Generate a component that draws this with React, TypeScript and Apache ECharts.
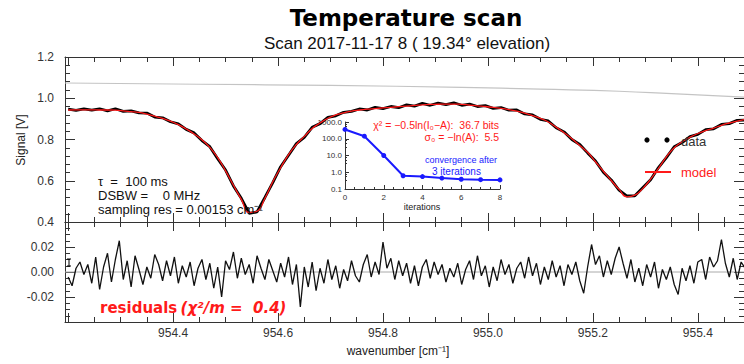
import React, { useEffect, useRef } from "react";
import * as echarts from "echarts";

const FONT = '"Liberation Sans", Arial, Helvetica, sans-serif';
const BOLDFONT = '"DejaVu Sans", Verdana, sans-serif';
const AX = "#333";

const XMIN = 954.194;
const XMAX = 955.488;

// spectrum sampled on a regular wavenumber grid
const spectrumStart = 954.2;
const spectrumStep = 0.015;
const modelSignal = [
  0.943, 0.944, 0.944, 0.944, 0.943, 0.943, 0.942, 0.939, 0.935, 0.931,
  0.923, 0.913, 0.902, 0.889, 0.872, 0.851, 0.827, 0.799, 0.762, 0.712,
  0.648, 0.578, 0.51, 0.446, 0.452, 0.515, 0.595, 0.663, 0.727, 0.776,
  0.815, 0.853, 0.88, 0.903, 0.919, 0.929, 0.938, 0.943, 0.947, 0.95,
  0.953, 0.956, 0.959, 0.962, 0.965, 0.968, 0.97, 0.971, 0.972, 0.972,
  0.97, 0.967, 0.963, 0.96, 0.956, 0.951, 0.945, 0.938, 0.928, 0.916,
  0.902, 0.885, 0.86, 0.833, 0.804, 0.771, 0.738, 0.692, 0.646, 0.601,
  0.558, 0.522, 0.53, 0.562, 0.608, 0.66, 0.716, 0.76, 0.789, 0.811,
  0.829, 0.843, 0.855, 0.869, 0.88, 0.889, 0.897,
];
const measuredSignal = [
  0.947, 0.941, 0.949, 0.942, 0.949, 0.939, 0.949, 0.936, 0.939, 0.929,
  0.928, 0.909, 0.905, 0.886, 0.876, 0.849, 0.832, 0.795, 0.765, 0.707,
  0.652, 0.575, 0.515, 0.442, 0.449, 0.519, 0.591, 0.668, 0.724, 0.78,
  0.81, 0.859, 0.877, 0.907, 0.915, 0.932, 0.936, 0.948, 0.943, 0.956,
  0.95, 0.96, 0.954, 0.968, 0.962, 0.975, 0.966, 0.976, 0.969, 0.978,
  0.966, 0.972, 0.96, 0.964, 0.951, 0.955, 0.942, 0.943, 0.924, 0.919,
  0.898, 0.89, 0.857, 0.837, 0.8, 0.776, 0.735, 0.696, 0.641, 0.604,
  0.554, 0.526, 0.527, 0.566, 0.605, 0.664, 0.712, 0.765, 0.785, 0.814,
  0.825, 0.848, 0.852, 0.873, 0.877, 0.893, 0.894,
];

const residualStart = 954.2;
const residualStep = 0.0075;
const residuals = [
  -0.004, -0.011, 0.003, 0.008, -0.002, 0.006, -0.009, 0.012, -0.014, 0.004,
  0.015, -0.008, 0.01, 0.025, -0.006, 0.009, -0.012, 0.013, 0.002, -0.01,
  0.004, -0.005, 0.014, 0.006, -0.007, 0.009, -0.003, 0.012, -0.009, 0.005,
  -0.004, 0.008, -0.011, 0.003, 0.01, -0.006, 0.007, -0.013, 0.004, -0.02,
  0.009, 0.002, 0.016, -0.005, 0.011, -0.002, 0.006, -0.009, 0.013, 0.003,
  -0.006, 0.01, 0.001, -0.008, 0.007, -0.004, 0.012, -0.01, 0.006, -0.028,
  0.004, -0.012, 0.008, -0.015, 0.003, -0.009, 0.01, -0.006, 0.005, -0.013,
  0.002, -0.007, 0.009, -0.003, -0.008, 0.006, 0.014, -0.004, 0.008, -0.002,
  0.024, 0.003, 0.011, -0.006, 0.009, -0.003, 0.007, -0.009, 0.005, -0.011,
  0.004, 0.01, -0.005, 0.008, -0.002, 0.006, -0.008, 0.003, -0.004, 0.007,
  -0.01, 0.002, 0.009, -0.006, 0.013, -0.003, 0.005, -0.012, 0.004, -0.007,
  0.01, -0.002, 0.006, -0.009, 0.003, 0.008, -0.005, 0.012, -0.003, 0.007,
  -0.01, 0.004, -0.006, 0.009, -0.004, 0.005, -0.011, 0.006, -0.002, 0.008,
  -0.007, -0.017, 0.004, 0.022, 0.006, 0.013, -0.004, 0.009, -0.002, 0.011,
  0.02, 0.007, -0.005, 0.01, -0.008, 0.003, -0.011, 0.006, -0.004, 0.008,
  -0.013, 0.002, -0.006, 0.004, -0.01, -0.018, 0.003, -0.007, 0.005, -0.009,
  0.008, 0.01, -0.006, 0.012, 0.004, 0.009, 0.026, 0.007, -0.004, 0.011,
  -0.006, 0.008, 0.003, -0.009,
];

const baselineWavenumber = [954.194, 954.45, 954.7, 954.95, 955.1, 955.25, 955.35, 955.488];
const baselineSignal = [1.074, 1.068, 1.062, 1.053, 1.044, 1.034, 1.022, 1.005];

const iterations = [0, 1, 2, 3, 4, 5, 6, 7, 8];
const convergence = [360, 142, 10, 0.62, 0.55, 0.45, 0.38, 0.36, 0.35];

const annotationLines = ["τ  =  100 ms", "DSBW =    0 MHz", "sampling res = 0.00153 cm⁻¹"];

const lineStyle = { color: AX, width: 1 };

function xLabelFormatter(v: number) {
  const k = v * 5;
  if (v < 954.3 || Math.abs(k - Math.round(k)) > 1e-6) return "";
  return v.toFixed(1);
}

function majorX(gridIndex: number, position: string, labels: boolean) {
  return {
    type: "value",
    gridIndex,
    position,
    min: XMIN,
    max: XMAX,
    splitNumber: 6,
    minInterval: 0.2,
    maxInterval: 0.2,
    axisLine: { show: true, onZero: false, lineStyle },
    axisTick: { show: true, inside: true, length: 9, lineStyle },
    splitLine: { show: false },
    axisLabel: labels
      ? {
          show: true,
          margin: 5,
          color: AX,
          fontSize: 12,
          fontFamily: FONT,
          showMinLabel: false,
          showMaxLabel: false,
          formatter: xLabelFormatter,
        }
      : { show: false },
  };
}

function minorX(gridIndex: number, position: string) {
  return {
    type: "value",
    gridIndex,
    position,
    min: XMIN,
    max: XMAX,
    splitNumber: 26,
    minInterval: 0.05,
    maxInterval: 0.05,
    axisLine: { show: false, onZero: false },
    axisTick: { show: true, inside: true, length: 5, lineStyle },
    splitLine: { show: false },
    axisLabel: { show: false },
  };
}

function mainY(
  gridIndex: number,
  position: string,
  min: number,
  max: number,
  interval: number,
  minorSplit: number,
  digits: number,
  labels: boolean,
  hideEnds: boolean
) {
  return {
    type: "value",
    gridIndex,
    position,
    min,
    max,
    interval,
    axisLine: { show: true, onZero: false, lineStyle },
    axisTick: { show: true, inside: true, length: 10, lineStyle },
    minorTick: { show: true, splitNumber: minorSplit, length: 5, lineStyle },
    splitLine: { show: false },
    axisLabel: labels
      ? {
          show: true,
          margin: 11,
          color: AX,
          fontSize: 12,
          fontFamily: FONT,
          showMinLabel: !hideEnds,
          showMaxLabel: !hideEnds,
          formatter: (v: number) => v.toFixed(digits),
        }
      : { show: false },
  };
}

function text(x: number, y: number, t: string, font: string, fill: string, align = "left", extra: any = {}) {
  return {
    type: "text",
    x,
    y,
    silent: true,
    z: 100,
    ...extra,
    style: {
      text: t,
      font,
      fill,
      align,
      verticalAlign: "middle",
      textAlign: align,
      textVerticalAlign: "middle",
    },
  };
}

function buildOption() {
  const spectrumX = modelSignal.map((_, i) => spectrumStart + i * spectrumStep);
  const modelData = modelSignal.map((v, i) => [spectrumX[i], v]);
  const measuredData = measuredSignal.map((v, i) => [spectrumX[i], v]);
  const residualData = residuals.map((v, i) => [residualStart + i * residualStep, v]);
  const baselineData = baselineSignal.map((v, i) => [baselineWavenumber[i], v]);
  const convData = convergence.map((v, i) => [iterations[i], v]);

  return {
    animation: false,
    backgroundColor: "#fff",
    grid: [
      { left: 65, top: 57, width: 679, height: 165 },
      { left: 65, top: 222, width: 679, height: 100 },
      { left: 345, top: 122, width: 155, height: 67 },
    ],
    xAxis: [
      majorX(0, "bottom", false), // 0
      majorX(0, "top", false), // 1
      majorX(1, "bottom", true), // 2
      majorX(1, "top", false), // 3
      minorX(0, "bottom"), // 4
      minorX(0, "top"), // 5
      minorX(1, "bottom"), // 6
      minorX(1, "top"), // 7
      {
        type: "value",
        gridIndex: 2,
        position: "bottom",
        min: 0,
        max: 8,
        interval: 2,
        axisLine: { show: true, onZero: false, lineStyle },
        axisTick: { show: true, inside: true, length: 4, lineStyle },
        minorTick: { show: true, splitNumber: 4, length: 2, lineStyle },
        splitLine: { show: false },
        axisLabel: { show: true, margin: 4, color: AX, fontSize: 8, fontFamily: FONT },
      }, // 8
    ],
    yAxis: [
      mainY(0, "left", 0.4, 1.2, 0.2, 5, 1, true, false),
      mainY(0, "right", 0.4, 1.2, 0.2, 5, 1, false, false),
      mainY(1, "left", -0.04, 0.04, 0.02, 4, 2, true, true),
      mainY(1, "right", -0.04, 0.04, 0.02, 4, 2, false, true),
      {
        type: "log",
        logBase: 10,
        gridIndex: 2,
        position: "left",
        min: 0.1,
        max: 1000,
        axisLine: { show: true, onZero: false, lineStyle },
        axisTick: { show: true, inside: true, length: 4, lineStyle },
        minorTick: { show: true, splitNumber: 4, length: 2, lineStyle },
        splitLine: { show: false },
        axisLabel: {
          show: true,
          margin: 3,
          color: AX,
          fontSize: 8,
          fontFamily: FONT,
          formatter: (v: number) => v.toFixed(1),
        },
      },
    ],
    series: [
      {
        type: "line",
        xAxisIndex: 0,
        yAxisIndex: 0,
        data: baselineData,
        smooth: true,
        symbol: "none",
        lineStyle: { color: "#c4c4c4", width: 1.2 },
        z: 2,
      },
      {
        type: "line",
        xAxisIndex: 0,
        yAxisIndex: 0,
        data: measuredData,
        symbol: "none",
        lineStyle: { color: "#000", width: 2.8 },
        z: 3,
      },
      {
        type: "line",
        xAxisIndex: 0,
        yAxisIndex: 0,
        data: modelData,
        smooth: true,
        symbol: "none",
        lineStyle: { color: "#ff1a1a", width: 1.3 },
        z: 4,
      },
      {
        type: "line",
        xAxisIndex: 2,
        yAxisIndex: 2,
        data: [
          [XMIN, 0],
          [XMAX, 0],
        ],
        symbol: "none",
        lineStyle: { color: "#aaa", width: 1 },
        z: 2,
      },
      {
        type: "line",
        xAxisIndex: 2,
        yAxisIndex: 2,
        data: residualData,
        symbol: "none",
        lineStyle: { color: "#111", width: 1.3 },
        z: 3,
      },
      {
        type: "line",
        xAxisIndex: 8,
        yAxisIndex: 4,
        data: convData,
        symbol: "circle",
        symbolSize: 5,
        itemStyle: { color: "#1a1aff" },
        lineStyle: { color: "#1a1aff", width: 2 },
        z: 10,
      },
    ],
    graphic: [
      text(406, 18, "Temperature scan", `bold 23px ${BOLDFONT}`, "#000", "center"),
      text(407, 43, "Scan 2017-11-17 8 ( 19.34° elevation)", `17px ${FONT}`, "#111", "center"),
      text(21, 140, "Signal [V]", `12px ${FONT}`, "#222", "center", { rotation: Math.PI / 2 }),
      text(398, 351, "wavenumber [cm⁻¹]", `12px ${FONT}`, "#222", "center"),
      text(98, 181, annotationLines[0], `13px ${FONT}`, "#111"),
      text(98, 195, annotationLines[1], `13px ${FONT}`, "#111"),
      text(98, 209, annotationLines[2], `13px ${FONT}`, "#111"),
      { type: "circle", shape: { cx: 647, cy: 140, r: 2.6 }, style: { fill: "#000" }, z: 100 },
      { type: "circle", shape: { cx: 667, cy: 140, r: 2.6 }, style: { fill: "#000" }, z: 100 },
      text(681, 141, "data", `13px ${FONT}`, "#333"),
      {
        type: "line",
        shape: { x1: 645, y1: 172, x2: 671, y2: 172 },
        style: { stroke: "#ff1a1a", lineWidth: 2 },
        z: 100,
      },
      text(681, 172, "model", `13px ${FONT}`, "#ff1a1a"),
      {
        type: "text",
        x: 100,
        y: 308,
        z: 100,
        style: {
          text: "{a|residuals} {b|(χ²/m =  0.4)}",
          verticalAlign: "middle",
          textVerticalAlign: "middle",
          rich: {
            a: { font: `bold 15px ${BOLDFONT}`, fill: "#ff1a1a" },
            b: { font: `italic bold 15px ${BOLDFONT}`, fill: "#ff1a1a" },
          },
        },
      },
      { type: "line", shape: { x1: 69, y1: 259, x2: 69, y2: 266 }, style: { stroke: "#000", lineWidth: 1 }, z: 100 },
      { type: "line", shape: { x1: 67, y1: 259, x2: 71, y2: 259 }, style: { stroke: "#000", lineWidth: 1 }, z: 100 },
      { type: "line", shape: { x1: 67, y1: 266, x2: 71, y2: 266 }, style: { stroke: "#000", lineWidth: 1 }, z: 100 },
      text(499, 125, "χ² = −0.5ln(I₀−A):  36.7 bits", `10.5px ${FONT}`, "#ff1a1a", "right"),
      text(499, 137, "σ₀ = −ln(A):  5.5", `10.5px ${FONT}`, "#ff1a1a", "right"),
      text(425, 160, "convergence after", `9px ${FONT}`, "#1a1aff", "left"),
      text(432, 171, "3 iterations", `10px ${FONT}`, "#1a1aff", "left"),
      text(422, 207, "iterations", `9px ${FONT}`, "#222", "center"),
    ],
  };
}

export default function App() {
  const ref = useRef<HTMLDivElement>(null);
  useEffect(() => {
    if (!ref.current) return;
    const chart = echarts.init(ref.current, null, { renderer: "svg" });
    chart.setOption(buildOption() as any);
    return () => chart.dispose();
  }, []);
  return (
    <div
      ref={ref}
      style={{ position: "fixed", left: 0, top: 0, width: 744, height: 364, background: "#fff" }}
    />
  );
}
